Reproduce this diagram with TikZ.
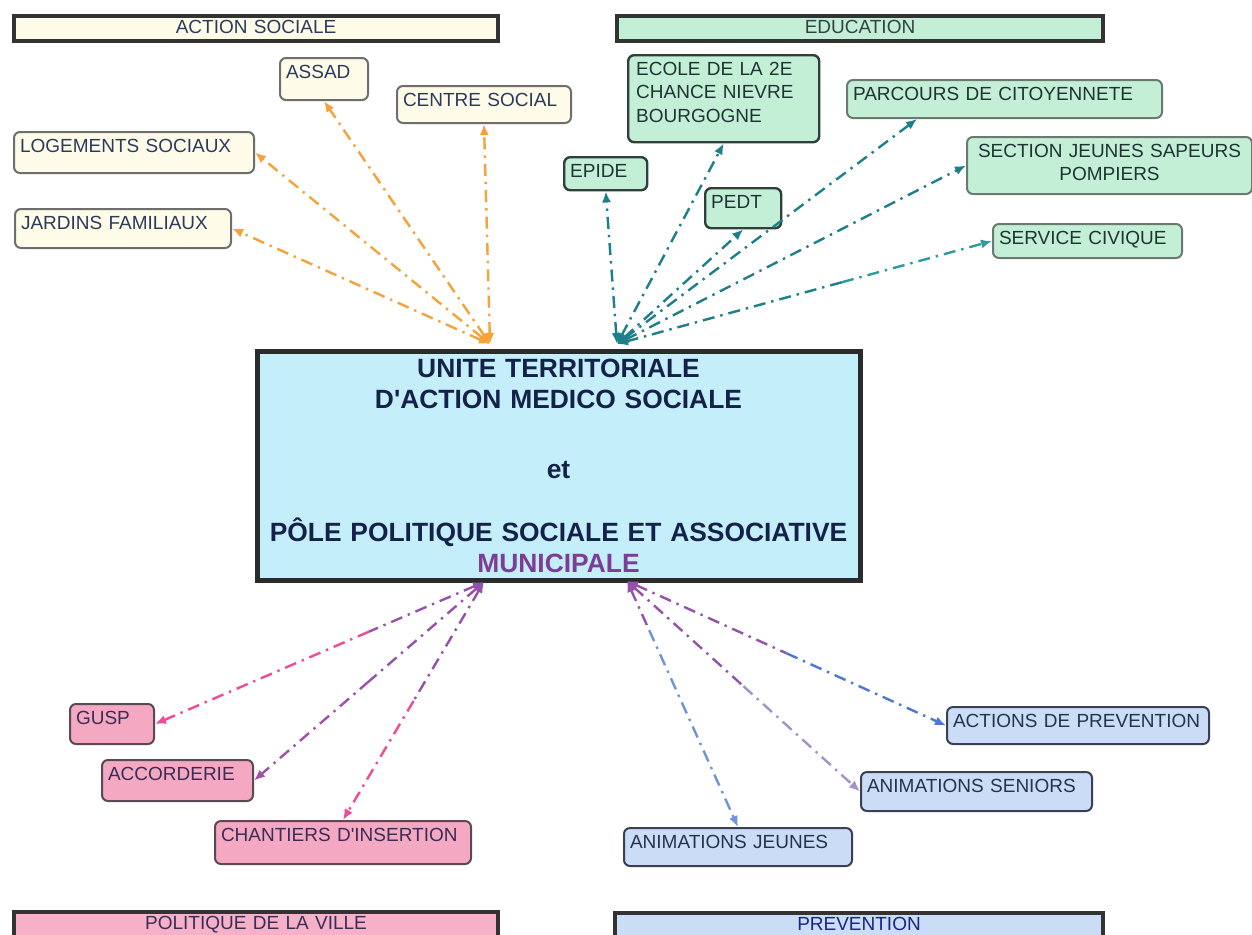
\documentclass[tikz,border=0pt]{standalone}
\usepackage{fontspec}
\setmainfont{Liberation Sans}
\usetikzlibrary{arrows.meta,calc}

% fills, borders and texts of the four families of partners
\definecolor{asfill}{HTML}{FEFCE9}
\definecolor{asline}{HTML}{6E6E6E}
\definecolor{astext}{HTML}{2B3A5C}
\definecolor{edfill}{HTML}{C4EFD7}
\definecolor{edline}{HTML}{2F3F3A}
\definecolor{edlinel}{HTML}{6A7A70}
\definecolor{edtext}{HTML}{1E3434}
\definecolor{pvfill}{HTML}{F5A8C2}
\definecolor{pvline}{HTML}{5A4A55}
\definecolor{pvtext}{HTML}{3A2D55}
\definecolor{prfill}{HTML}{CADCF6}
\definecolor{prline}{HTML}{3A3F55}
\definecolor{prtext}{HTML}{263350}
\definecolor{hdrline}{HTML}{333333}
\definecolor{cfill}{HTML}{C4EEF9}
\definecolor{cline}{HTML}{2B2B2B}
\definecolor{ctext}{HTML}{14224A}
\definecolor{munic}{HTML}{7D3C98}
% connector colours
\definecolor{orng}{HTML}{F5A23A}
\definecolor{tealc}{HTML}{1D7F8A}
\definecolor{tealc2}{HTML}{2E9C98}
\definecolor{purp}{HTML}{9452AA}
\definecolor{pinkc}{HTML}{EE4C97}
\definecolor{bluec}{HTML}{4C78D4}
\definecolor{lavc}{HTML}{A391C9}

% two-coloured link: arrow at both ends, colour changes part way
\newcommand\duolink[5][0.5]{%
  \draw[lk,#4,<-] (#2) -- ($(#2)!#1!(#3)$);
  \draw[lk,#5,->] ($(#2)!#1!(#3)$) -- (#3);}

\begin{document}
\begin{tikzpicture}[x=0.5pt,y=-0.5pt,
  >={Latex[length=5.5pt,width=4.6pt]},
  box/.style={draw, rounded corners=3pt, line width=1pt, anchor=north west,
    inner xsep=3pt, inner ysep=3pt, text height=7pt, align=left,
    font=\fontsize{9.5}{11.75}\selectfont},
  asbox/.style={box, draw=asline, fill=asfill, text=astext},
  edbox/.style={box, draw=edline, line width=1.2pt, fill=edfill, text=edtext},
  edboxl/.style={box, draw=edlinel, fill=edfill, text=edtext},
  pvbox/.style={box, draw=pvline, fill=pvfill, text=pvtext},
  prbox/.style={box, draw=prline, fill=prfill, text=prtext},
  hdr/.style={draw=hdrline, line width=2pt, anchor=north west,
    inner xsep=0pt, inner ysep=1.5pt, text height=7pt, text depth=2.5pt,
    align=center, font=\fontsize{9.5}{11.75}\selectfont},
  central/.style={draw=cline, line width=2.5pt, fill=cfill, anchor=north west,
    text width=301.5pt, inner xsep=0pt, inner ysep=3.4pt,
    text height=9.6pt, text depth=98.1pt, align=center, text=ctext,
    font=\bfseries\fontsize{13.2}{15.5}\selectfont},
  lk/.style={line width=1.2pt, dash pattern=on 6pt off 3pt on 1.2pt off 3pt, <->}
]
\useasboundingbox (0,0) rectangle (1252,934);
\fill[white] (0,0) rectangle (1252,934);
\clip (0,0) rectangle (1252,934);

% section headers
\node[hdr, fill=asfill, text=astext, text width=242pt] (hAS) at (12,14) {ACTION SOCIALE};
\node[hdr, fill=edfill, text=edtext!80!gray, text width=243pt] (hED) at (615,14) {EDUCATION};
\node[hdr, fill=pvfill!90!white, text=pvtext, text width=242pt, text depth=20pt] (hPV) at (12,910) {POLITIQUE DE LA VILLE};
\node[hdr, fill=prfill, text=prtext!70!blue, text width=244pt, text depth=20pt] (hPR) at (613,911) {PREVENTION};

% central structure
\node[central] (ut) at (254.5,348.5) {UNITE TERRITORIALE\\
D\textquotesingle ACTION MEDICO SOCIALE\\[19.5pt]
et\\[16pt]
PÔLE POLITIQUE SOCIALE ET ASSOCIATIVE\\
\textcolor{munic}{MUNICIPALE}};
\coordinate (uN1) at (490,344);
\coordinate (uN2) at (617,344);
\coordinate (uS1) at (484,582);
\coordinate (uS2) at (627,581);

% action sociale
\node[asbox, text width=38pt, text depth=8pt] (assad) at (279,57) {ASSAD};
\node[asbox, text width=81pt, text depth=5.5pt] (centre) at (396,85) {CENTRE SOCIAL};
\node[asbox, text width=114pt, text depth=7.5pt] (logements) at (13,131) {LOGEMENTS SOCIAUX};
\node[asbox, text width=102pt, text depth=6.5pt] (jardins) at (14,208) {JARDINS FAMILIAUX};

% education
\node[edbox, text width=87.5pt, text depth=30.5pt, inner xsep=4pt] (ecole) at (627,54) {ECOLE DE LA 2E\\CHANCE NIEVRE\\BOURGOGNE};
\node[edbox, text width=35.5pt, text depth=3.5pt] (epide) at (563,156) {EPIDE};
\node[edbox, text width=32pt, text depth=7pt] (pedt) at (704,187) {PEDT};
\node[edboxl, text width=151.5pt, text depth=6pt] (parcours) at (846,79) {PARCOURS DE CITOYENNETE};
\node[edboxl, text width=136.5pt, text depth=15.5pt, align=center] (section) at (966,136) {SECTION JEUNES SAPEURS\\POMPIERS};
\node[edboxl, text width=88.5pt, text depth=4pt] (service) at (992,223) {SERVICE CIVIQUE};

% politique de la ville
\node[pvbox, text width=36pt, text depth=7pt] (gusp) at (69,703) {GUSP};
\node[pvbox, text width=69.5pt, text depth=7.5pt] (accorderie) at (101,759) {ACCORDERIE};
\node[pvbox, text width=122pt, text depth=8.5pt] (chantiers) at (214,820) {CHANTIERS D\textquotesingle INSERTION};

% prevention
\node[prbox, text width=125pt, text depth=5.5pt] (actions) at (946,706) {ACTIONS DE PREVENTION};
\node[prbox, text width=109.5pt, text depth=6.5pt] (seniors) at (860,771) {ANIMATIONS SENIORS};
\node[prbox, text width=108pt, text depth=6pt] (jeunes) at (623,827) {ANIMATIONS JEUNES};

% links to action sociale
\draw[lk, orng] (uN1) -- (assad.south);
\draw[lk, orng] (uN1) -- (centre.south);
\draw[lk, orng] (uN1) -- (logements.east);
\draw[lk, orng] (uN1) -- (jardins.east);

% links to education
\draw[lk, tealc] (uN2) -- (epide.south);
\draw[lk, tealc] (uN2) -- (ecole.south);
\draw[lk, tealc] (uN2) -- (pedt.south);
\draw[lk, tealc] (uN2) -- ([xshift=35.5pt]parcours.south west);
\draw[lk, tealc] (uN2) -- (section.west);
\duolink[0.6]{uN2}{service.west}{tealc}{tealc2}

% links to politique de la ville
\duolink[0.35]{uS1}{gusp.east}{purp}{pinkc}
\duolink{uS1}{accorderie.east}{purp}{purp!85!pinkc}
\duolink{uS1}{chantiers.north}{purp}{pinkc}

% links to prevention
\duolink{uS2}{actions.west}{purp}{bluec}
\duolink{uS2}{seniors.west}{purp}{lavc}
\duolink[0.2]{uS2}{jeunes.north}{purp}{bluec!80!white}
\end{tikzpicture}
\end{document}
